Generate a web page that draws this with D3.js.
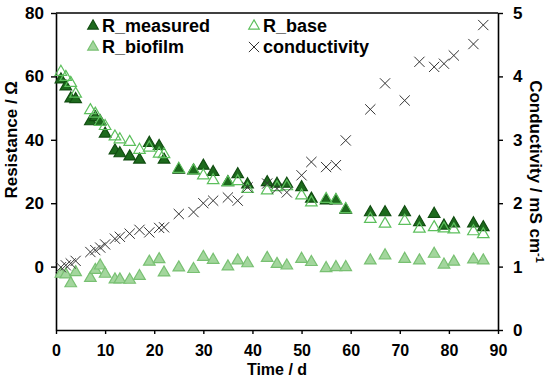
<!DOCTYPE html>
<html>
<head>
<meta charset="utf-8">
<script src="https://cdn.jsdelivr.net/npm/d3@7"></script>
<style>
  body { margin: 0; background: #fff; }
  svg text { font-family: "Liberation Sans", Arial, sans-serif; font-weight: bold; fill: #000; }
</style>
</head>
<body>
<div id="chart"></div>
<script>
// ------- data -------
const days = [1, 2, 3, 4, 7, 8, 9, 10, 12, 13, 15, 17, 19, 21, 22, 25, 28, 30, 32, 35, 37, 39, 43, 45, 47, 50, 52, 55, 57, 59, 64, 67, 71, 74, 77, 79, 81, 85, 87];
const rMeasured = [59.0, 56.8, 53.0, 52.8, 45.8, 47.1, 45.8, 41.9, 36.6, 35.7, 34.7, 33.7, 39.0, 38.0, 33.7, 30.5, 30.3, 31.8, 29.8, 26.6, 29.1, 25.9, 26.6, 26.1, 26.1, 25.0, 21.4, 20.8, 20.8, 17.9, 17.1, 17.1, 17.1, 14.0, 16.6, 12.9, 13.6, 13.6, 12.4];
const rBase = [61.4, 59.8, 57.9, 54.5, 49.3, 48.2, 45.6, 44.3, 41.0, 40.1, 39.3, 36.8, 37.5, 35.6, 35.4, 30.8, 30.3, 28.7, 27.2, 26.6, 26.9, 24.5, 24.0, 25.0, 25.3, 22.4, 20.2, 21.3, 21.0, 18.1, 15.0, 13.5, 14.4, 11.9, 12.4, 12.0, 11.7, 11.1, 10.2];
const rBiofilm = [-2.3, -2.5, -5.3, -1.8, -3.6, -1.1, 0.3, -2.3, -4.1, -4.1, -4.2, -3.0, 1.5, 2.3, -1.9, -0.3, -0.8, 3.0, 2.1, 0.0, 1.9, 1.0, 2.7, 0.8, 0.3, 2.4, 1.4, -0.5, -0.2, -0.2, 1.9, 3.5, 2.4, 1.9, 4.0, 0.6, 1.5, 2.2, 1.9];
const conductivity = [0.99, 1.02, 1.05, 1.09, 1.23, 1.26, 1.30, 1.35, 1.44, 1.47, 1.52, 1.58, 1.54, 1.61, 1.62, 1.83, 1.86, 2.00, 2.04, 2.09, 2.04, 2.25, 2.31, 2.23, 2.17, 2.44, 2.65, 2.57, 2.60, 2.99, 3.48, 3.89, 3.62, 4.23, 4.15, 4.20, 4.33, 4.51, 4.81];

const xTicks = [0, 10, 20, 30, 40, 50, 60, 70, 80, 90];
const leftTicks = [0, 20, 40, 60, 80];
const rightTicks = [0, 1, 2, 3, 4, 5];

// ------- layout -------
const width = 550, height = 380;
const m = { left: 56, right: 498, top: 13, bottom: 330 };

const svg = d3.select("#chart").append("svg")
    .attr("width", width)
    .attr("height", height);

let x = d3.scaleLinear().domain([0, 90]).range([m.left, m.right]);
let yL = d3.scaleLinear().domain([-20, 80]).range([m.bottom, m.top]);
let yR = d3.scaleLinear().domain([0, 5]).range([m.bottom, m.top]);

function styleAxis(g) {
  g.attr("font-family", null).attr("font-size", null);
  g.select(".domain").attr("stroke", "#000").attr("stroke-width", 1.6);
  g.selectAll(".tick line").attr("stroke", "#000").attr("stroke-width", 1.4);
  g.selectAll(".tick text").style("font-size", "17px");
}

svg.append("g")
   .attr("transform", `translate(0,${m.bottom})`)
   .call(d3.axisBottom(x).tickValues(xTicks).tickSize(4).tickPadding(11).tickSizeOuter(0))
   .call(styleAxis)
   .selectAll(".tick text").style("font-size", "16px");

svg.append("g")
   .attr("transform", `translate(${m.left},0)`)
   .call(d3.axisLeft(yL).tickValues(leftTicks).tickSize(5).tickPadding(7).tickSizeOuter(0))
   .call(styleAxis);

svg.append("g")
   .attr("transform", `translate(${m.right},0)`)
   .call(d3.axisRight(yR).tickValues(rightTicks).tickFormat(d3.format("d")).tickSize(5).tickPadding(10).tickSizeOuter(0))
   .call(styleAxis);

// top border
svg.append("line")
   .attr("x1", m.left).attr("x2", m.right)
   .attr("y1", m.top).attr("y2", m.top)
   .attr("stroke", "#000").attr("stroke-width", 1.6);

// ------- axis titles -------
svg.append("text")
   .attr("x", (m.left + m.right) / 2).attr("y", 375)
   .attr("text-anchor", "middle")
   .style("font-size", "16px")
   .text("Time / d");

svg.append("text")
   .attr("transform", `translate(17,${yL(40)}) rotate(-90)`)
   .attr("text-anchor", "middle")
   .style("font-size", "17px")
   .text("Resistance / Ω");

let rTitle = svg.append("text")
   .attr("transform", `translate(530,${(m.top + m.bottom) / 2}) rotate(90)`)
   .attr("text-anchor", "middle")
   .style("font-size", "17px");
rTitle.append("tspan").text("Conductivity / mS cm");
rTitle.append("tspan").attr("dy", -6).style("font-size", "11px").text("-1");

// ------- markers -------
const tri = d3.symbol(d3.symbolTriangle).size(58);
const triSmall = d3.symbol(d3.symbolTriangle).size(48);
const cross = d3.symbol(d3.symbolTimes).size(70);

const series = [
  { name: "R_measured", values: rMeasured, fill: "#1d6a1d", stroke: "#114d11", axis: yL },
  { name: "R_base", values: rBase, fill: "none", stroke: "#5cbf5c", axis: yL },
  { name: "R_biofilm", values: rBiofilm, fill: "#a3d69d", stroke: "#78c072", axis: yL }
];

series.forEach(s => {
  svg.append("g").selectAll("path")
     .data(days)
     .join("path")
     .attr("d", tri)
     .attr("transform", (d, i) => `translate(${x(d)},${s.axis(s.values[i])})`)
     .attr("fill", s.fill)
     .attr("stroke", s.stroke)
     .attr("stroke-width", 1.2);
});

svg.append("g").selectAll("path")
   .data(days)
   .join("path")
   .attr("d", cross)
   .attr("transform", (d, i) => `translate(${x(d)},${yR(conductivity[i])})`)
   .attr("fill", "none")
   .attr("stroke", "#333")
   .attr("stroke-width", 1);

// ------- legend -------
const legend = [
  { label: "R_measured", col: 0, row: 0, type: "tri", fill: "#1d6a1d", stroke: "#114d11" },
  { label: "R_base", col: 1, row: 0, type: "tri", fill: "none", stroke: "#5cbf5c" },
  { label: "R_biofilm", col: 0, row: 1, type: "tri", fill: "#a3d69d", stroke: "#78c072" },
  { label: "conductivity", col: 1, row: 1, type: "cross", fill: "none", stroke: "#333" }
];
const colX = [93, 254];
const rowY = [32, 53];

let lg = svg.append("g").selectAll("g")
   .data(legend)
   .join("g")
   .attr("transform", d => `translate(${colX[d.col]},${rowY[d.row]})`);

lg.append("path")
  .attr("d", d => d.type === "tri" ? triSmall() : cross())
  .attr("transform", "translate(0,-6)")
  .attr("fill", d => d.fill)
  .attr("stroke", d => d.stroke)
  .attr("stroke-width", d => d.type === "tri" ? 1.2 : 1);

lg.append("text")
  .attr("x", 9)
  .style("font-size", "18px")
  .text(d => d.label);
</script>
</body>
</html>
